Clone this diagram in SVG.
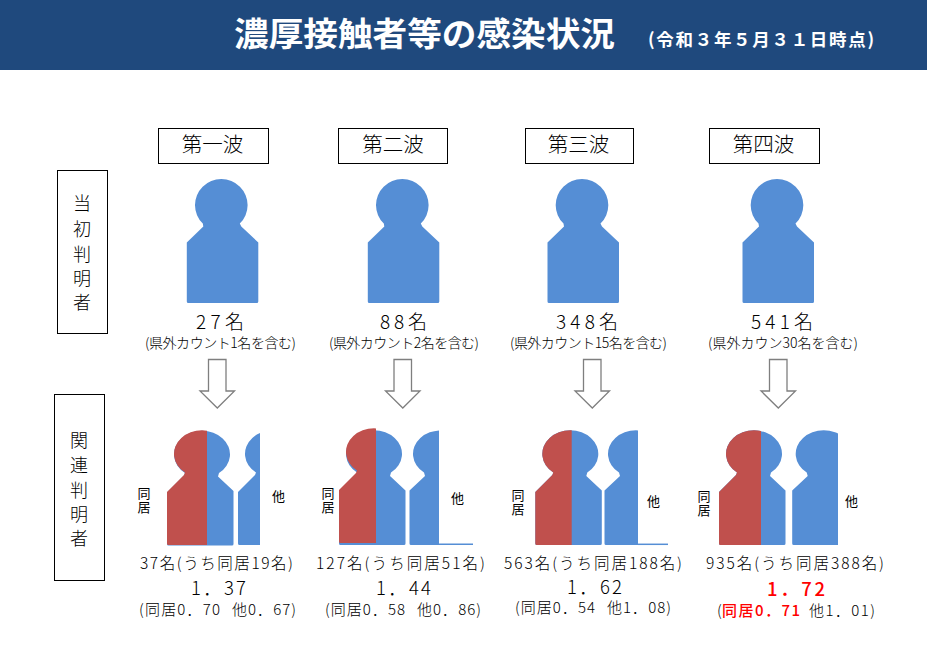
<svg xmlns="http://www.w3.org/2000/svg" width="927" height="645" viewBox="0 0 927 645">
<style>
text{font-family:"Noto Sans CJK JP","Noto Sans",sans-serif;fill:#000;font-weight:300}
.t{fill:#fff;font-weight:700}
.box{fill:#fff;stroke:#000;stroke-width:1}
.hd{font-size:20.5px;text-anchor:middle}
.side{font-size:18px;text-anchor:middle}
.n{font-size:19px}
.s{font-size:14px}
.c{font-size:15.5px}
.r{font-size:18.5px}
.p{font-size:15px}
.v{font-size:13px;font-weight:400}
.vv{font-size:13px;font-weight:400;writing-mode:vertical-rl;letter-spacing:1px}
.red{fill:#f00;font-weight:500}
.ar{fill:#fff;stroke:#7f7f7f;stroke-width:1.3}
.b{fill:#558ed5}
.rd{fill:#c0504d}
.ln{stroke:#558ed5;stroke-width:1.5;fill:none}
</style>
<defs>
<path id="p" d="M-18.5,18.6A26.3,26 0 1 1 18.5,18.6L20,21.5L37,37.5V96.5Q37,98 35.5,98H-33Q-34.5,98-34.5,96.500V37.500L-18,21.500Z"/>
<path id="q" d="M-17,40.500A28,23.500 0 1 1 17,40.500L16,44L31.500,58.500V111.500Q31.500,113 30,113H-33.500Q-35,113-35,111.500V60L-18,43Z"/>
<clipPath id="c1"><rect x="150" y="420" width="57" height="140"/></clipPath>
<clipPath id="c1b"><rect x="230" y="420" width="30" height="140"/></clipPath>
<clipPath id="c2"><rect x="330" y="420" width="46" height="140"/></clipPath>
<clipPath id="c2b"><rect x="405" y="420" width="34" height="140"/></clipPath>
<clipPath id="c3"><rect x="520" y="420" width="51.700" height="140"/></clipPath>
<clipPath id="c3b"><rect x="603" y="420" width="35" height="140"/></clipPath>
<clipPath id="c4"><rect x="700" y="420" width="61" height="140"/></clipPath>
<clipPath id="c4b"><rect x="788" y="420" width="50" height="140"/></clipPath>
</defs>
<rect width="927" height="645" fill="#fff"/>
<g id="title">
<rect width="927" height="70" fill="#1f497d"/>
<text class="t" x="234" y="46" font-size="33" textLength="381" lengthAdjust="spacingAndGlyphs">濃厚接触者等の感染状況</text>
<text class="t" x="648" y="46" font-size="17.500" textLength="226">(令和３年５月３１日時点)</text>
</g>
<g id="wave1"><rect class="box" x="158.500" y="128.500" width="110" height="35"/><text class="hd" x="212.500" y="152">第一波</text></g>
<g id="wave2"><rect class="box" x="338.500" y="128.500" width="109" height="35"/><text class="hd" x="393" y="152">第二波</text></g>
<g id="wave3"><rect class="box" x="525.500" y="128.500" width="108" height="35"/><text class="hd" x="578.500" y="152">第三波</text></g>
<g id="wave4"><rect class="box" x="709.500" y="128.500" width="110" height="35"/><text class="hd" x="763.500" y="152">第四波</text></g>
<g id="side-initial"><rect class="box" x="57.500" y="170.500" width="50" height="163"/>
<text class="side" x="82" y="210">当</text><text class="side" x="82" y="236">初</text><text class="side" x="82" y="261">判</text><text class="side" x="82" y="285">明</text><text class="side" x="82" y="309">者</text></g>
<g id="side-related"><rect class="box" x="54.500" y="394.500" width="50" height="186"/>
<text class="side" x="79" y="447">関</text><text class="side" x="79" y="472">連</text><text class="side" x="79" y="497">判</text><text class="side" x="79" y="521">明</text><text class="side" x="79" y="545">者</text></g>

<g id="col1-initial"><use class="b" href="#p" x="221.300" y="205"/>
<text class="n" x="196" y="329" textLength="48">27名</text>
<text class="s" x="145" y="348" textLength="151">(県外カウント1名を含む)</text></g>
<g id="col2-initial"><use class="b" href="#p" x="402.300" y="205"/>
<text class="n" x="380" y="329" textLength="47">88名</text>
<text class="s" x="329" y="348" textLength="150">(県外カウント2名を含む)</text></g>
<g id="col3-initial"><use class="b" href="#p" x="582" y="205"/>
<text class="n" x="556" y="329" textLength="62">348名</text>
<text class="s" x="510" y="348" textLength="157">(県外カウント15名を含む)</text></g>
<g id="col4-initial"><use class="b" href="#p" x="777" y="205"/>
<text class="n" x="751" y="329" textLength="62">541名</text>
<text class="s" x="708" y="348" textLength="150">(県外カウン30名を含む)</text></g>

<g id="connectors">
<path class="ar" d="M208.500,359.500H226V391H234.500L217.300,408L200,391H208.500Z"/>
<path class="ar" d="M394,359.500H411.500V391H420L402.800,408L385.500,391H394Z"/>
<path class="ar" d="M583.500,359.500H601V391H609.500L592.300,408L575,391H583.500Z"/>
<path class="ar" d="M769.500,359.500H787V391H795.500L778.300,408L761,391H769.500Z"/>
</g>

<g id="col1-related">
<use class="b" href="#q" x="202" y="432.500"/>
<g clip-path="url(#c1)"><use class="rd" href="#q" x="202" y="432"/></g>
<g clip-path="url(#c1b)"><use class="b" href="#q" x="273" y="432"/></g>
<text class="vv" x="144" y="487">同居</text>
<text class="v" x="272" y="501">他</text>
<text class="c" x="140" y="569" textLength="153">37名(うち同居19名)</text>
<text class="r" x="191" y="595" textLength="55">1．37</text>
<text class="p" x="139" y="615" textLength="81">(同居0．70</text><text class="p" x="232" y="615" textLength="64">他0．67)</text>
</g>
<g id="col2-related">
<use class="b" href="#q" x="374" y="432"/>
<g clip-path="url(#c2)"><use class="rd" href="#q" x="374" y="430"/></g>
<g clip-path="url(#c2b)"><use class="b" href="#q" transform="translate(441 432) scale(-1 1)"/></g>
<path class="ln" d="M439,544.300H473"/>
<text class="vv" x="328" y="487">同居</text>
<text class="v" x="451" y="503">他</text>
<text class="c" x="316" y="569" textLength="169">127名(うち同居51名)</text>
<text class="r" x="376" y="595" textLength="55">1．44</text>
<text class="p" x="325" y="615" textLength="80">(同居0．58</text><text class="p" x="417" y="615" textLength="64">他0．86)</text>
</g>
<g id="col3-related">
<use class="b" href="#q" x="570.300" y="432"/>
<g clip-path="url(#c3)"><use class="rd" href="#q" x="570.300" y="432"/></g>
<g clip-path="url(#c3b)"><use class="b" href="#q" transform="translate(636 432) scale(-1 1)"/></g>
<path class="ln" d="M638,544.300H668"/>
<text class="vv" x="518" y="489">同居</text>
<text class="v" x="647" y="506">他</text>
<text class="c" x="504" y="569" textLength="178">563名(うち同居188名)</text>
<text class="r" x="567" y="594" textLength="55">1．62</text>
<text class="p" x="515" y="613" textLength="80">(同居0．54</text><text class="p" x="607" y="613" textLength="64">他1．08)</text>
</g>
<g id="col4-related">
<use class="b" href="#q" x="754" y="432"/>
<g clip-path="url(#c4)"><use class="rd" href="#q" x="754" y="432"/></g>
<g clip-path="url(#c4b)"><use class="b" href="#q" transform="translate(823.700 432) scale(-1 1)"/></g>
<text class="vv" x="704" y="490">同居</text>
<text class="v" x="845" y="506">他</text>
<text class="c" x="706" y="569" textLength="178">935名(うち同居388名)</text>
<text class="r red" x="767" y="596" textLength="58">1．72</text>
<text class="p" x="717" y="616">(</text><text class="p red" x="722" y="616" textLength="78">同居0．71</text><text class="p" x="809" y="616" textLength="66">他1．01)</text>
</g>
</svg>
